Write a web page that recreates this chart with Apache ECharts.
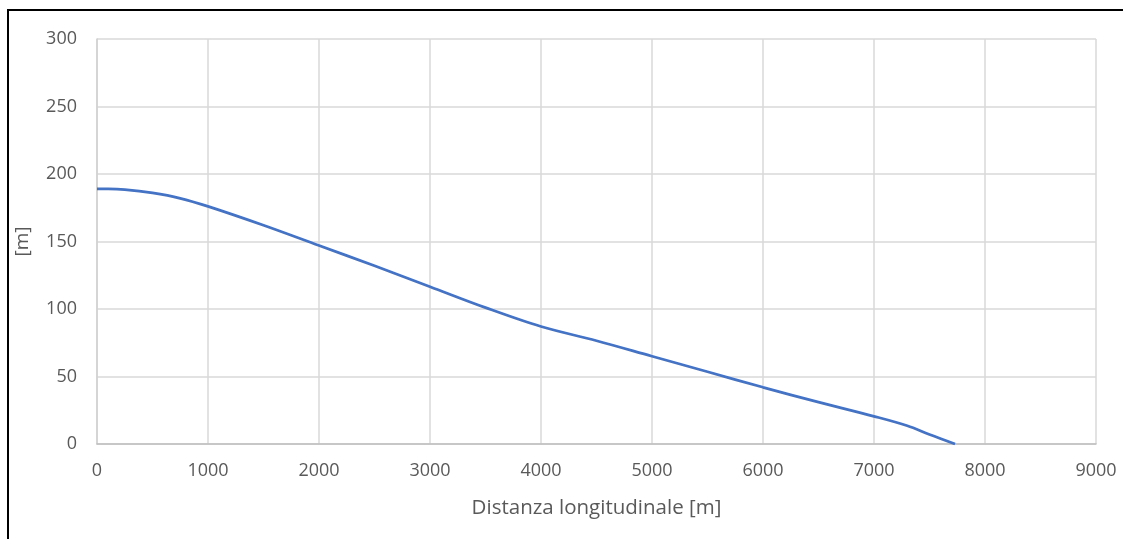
<!DOCTYPE html>
<html>
<head>
<meta charset="utf-8">
<script src="https://cdn.jsdelivr.net/npm/echarts@6/dist/echarts.min.js"></script>
<style>
  html, body { margin: 0; padding: 0; background: #fff; }
  #chart { width: 1123px; height: 539px; }
</style>
</head>
<body>
<div id="chart"></div>
<script>
// Longitudinal profile: distance [m] vs elevation [m]
const distances = [0, 100, 250, 500, 750, 1000, 1500, 2000, 2500, 3000, 3500, 4000, 4500, 5000, 5500, 6000, 6500, 7000, 7300, 7500, 7730];
const heights   = [189, 189, 188.5, 186, 182, 176, 162, 147, 132, 116.5, 101, 87, 76.5, 65, 53.5, 42, 31, 20.5, 13.5, 7, 0];

const xAxisTitle = 'Distanza longitudinale [m]';
const yAxisTitle = '[m]';

const font = '"Open Sans", "Liberation Sans", sans-serif';
const chart = echarts.init(document.getElementById('chart'));

chart.setOption({
  animation: false,
  backgroundColor: '#ffffff',
  grid: { left: 97, right: 27, top: 39, bottom: 95 },
  graphic: [
    { type: 'line', shape: { x1: 7, y1: 10, x2: 1123, y2: 10 }, style: { stroke: '#000', lineWidth: 2 } },
    { type: 'line', shape: { x1: 8, y1: 9, x2: 8, y2: 539 }, style: { stroke: '#000', lineWidth: 2 } }
  ],
  xAxis: {
    type: 'value',
    min: 0, max: 9000, interval: 1000,
    name: xAxisTitle,
    nameLocation: 'middle',
    nameGap: 54,
    nameTextStyle: { color: '#595959', fontSize: 20.5, fontFamily: font },
    axisLine: { show: true, lineStyle: { color: '#bfbfbf', width: 1.5 } },
    axisTick: { show: false },
    axisLabel: { color: '#595959', fontSize: 18, fontFamily: font, margin: 18, formatter: v => String(v) },
    splitLine: { show: true, lineStyle: { color: '#d9d9d9', width: 1.5 } }
  },
  yAxis: {
    type: 'value',
    min: 0, max: 300, interval: 50,
    name: yAxisTitle,
    nameLocation: 'middle',
    nameGap: 65,
    nameRotate: 90,
    nameTextStyle: { color: '#595959', fontSize: 19, fontFamily: font },
    axisLine: { show: true, lineStyle: { color: '#d0d0d0', width: 1.5 } },
    axisTick: { show: false },
    axisLabel: { color: '#595959', fontSize: 18, fontFamily: font, margin: 20, formatter: v => String(v) },
    splitLine: { show: true, lineStyle: { color: '#d9d9d9', width: 1.5 } }
  },
  series: [{
    type: 'line',
    data: distances.map((d, i) => [d, heights[i]]),
    smooth: 0.35,
    showSymbol: false,
    lineStyle: { color: '#4472c4', width: 2.75 }
  }]
});
</script>
</body>
</html>
